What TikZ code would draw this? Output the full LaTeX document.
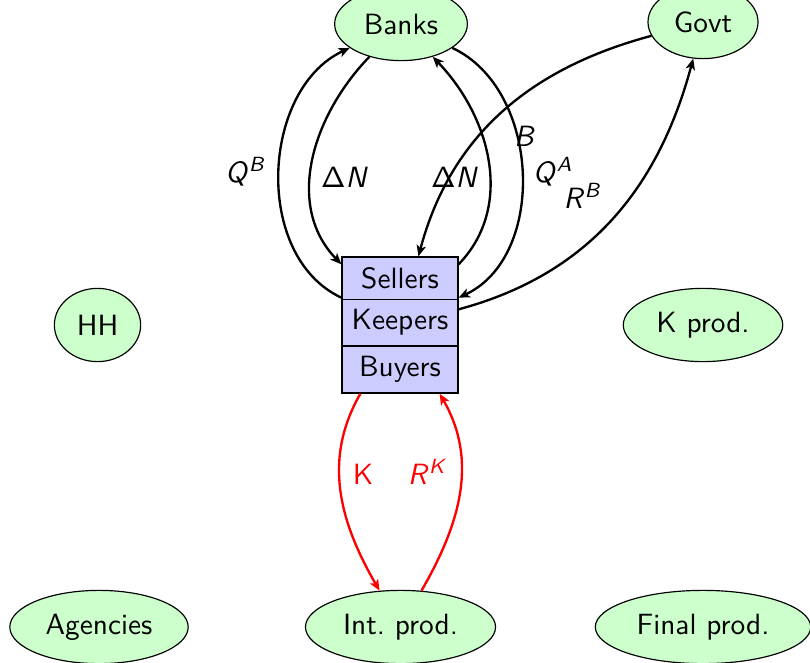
\documentclass[tikz,border=0pt]{standalone}
\usetikzlibrary{shapes.geometric,shapes.multipart,arrows.meta}
\DeclareMathAlphabet{\mathsl}{OT1}{cmss}{m}{sl}
\begin{document}
\begin{tikzpicture}[x=0.3413pt,y=-0.3413pt,font=\sffamily,
  agent/.style={ellipse,draw,fill=green!20,minimum height=25pt,inner sep=0.3333em},
  stackbox/.style={rectangle split,rectangle split parts=3,draw,fill=blue!20},
  flow/.style={thick,-{Stealth[length=3.8pt,width=3.2pt,inset=1pt]}},
  lbl/.style={inner sep=0pt}]
\useasboundingbox (0,0) rectangle (810,662);
% nodes
\node[agent] (banks) at (401,24) {Banks};
\node[agent] (govt) at (703,22) {Govt};
\node[agent] (hh) at (97.5,325) {HH};
\node[agent] (kprod) at (703,325) {K prod.};
\node[agent] (agencies) at (99,627) {Agencies};
\node[agent] (intprod) at (400.5,627) {Int.\ prod.};
\node[agent] (finalprod) at (703,627) {Final prod.};
\node[stackbox] (stack) at (400,325) {Sellers\nodepart{two}Keepers\nodepart{three}Buyers};
% black flows
\draw[flow] (stack) to[out=155,in=205] (banks);
\draw[flow] (banks) to[out=226,in=134] (stack);
\draw[flow] (stack) to[out=46,in=314] (banks);
\draw[flow] (banks) to[out=335,in=25] (stack);
\draw[flow] (govt) to[out=195,in=75] (stack);
\draw[flow] (stack) to[out=15,in=255] (govt);
% red flows
\draw[flow,red] (stack) to[out=240,in=120] (intprod);
\draw[flow,red] (intprod) to[out=60,in=300] (stack);
% labels
\node[lbl] (lqb) at (246,172) {$\mathsl{Q}^{\mathsl{B}}$};
\node[lbl] (ldnl) at (345,177) {$\mathsf{\Delta}\mathsl{N}$};
\node[lbl] (ldnr) at (455,177) {$\mathsf{\Delta}\mathsl{N}$};
\node[lbl] (lb) at (525,136) {$\mathsl{B}$};
\node[lbl] (lqa) at (553,172) {$\mathsl{Q}^{\mathsl{A}}$};
\node[lbl] (lrb) at (583,196) {$\mathsl{R}^{\mathsl{B}}$};
\node[lbl,text=red] (lk) at (363,474) {K};
\node[lbl,text=red] (lrk) at (428,472) {$\mathsl{R}^{\mathsl{K}}$};
\end{tikzpicture}
\end{document}
